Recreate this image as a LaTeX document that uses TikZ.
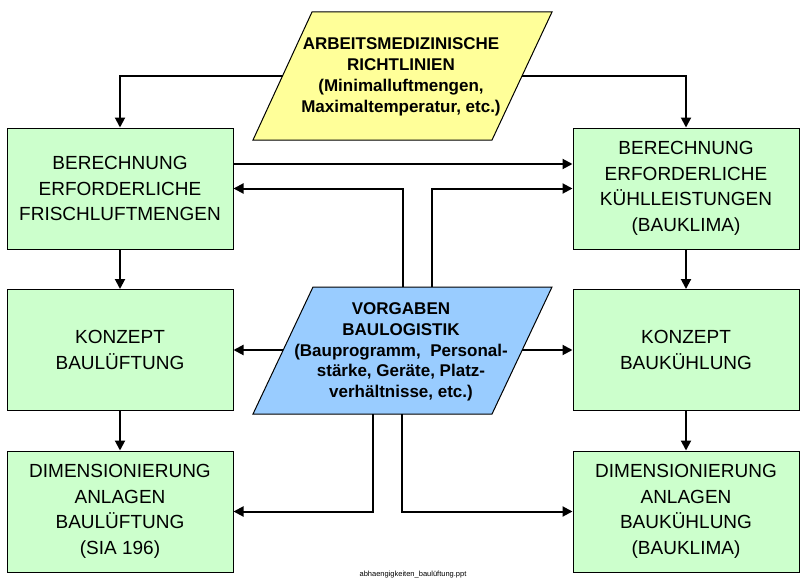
\documentclass[tikz,border=0pt]{standalone}
\usepackage{fontspec}
\setmainfont{Liberation Sans}
\usetikzlibrary{arrows.meta}
\definecolor{boxgreen}{RGB}{204,255,204}
\definecolor{amsyellow}{RGB}{255,255,153}
\definecolor{vorgblue}{RGB}{153,204,255}

\begin{document}
\begin{tikzpicture}[x=1pt,y=-1pt,
    box/.style={draw,line width=1pt,fill=boxgreen,minimum width=226pt,minimum height=121pt,
                align=center,inner sep=0pt,font=\fontsize{19}{25.5}\selectfont},
    para/.style={draw,line width=1pt},
    paratext/.style={align=center,inner sep=0pt,font=\bfseries\fontsize{17}{20.8}\selectfont},
    arr/.style={line width=2pt,-{Triangle[length=10pt,width=10pt]}}]
    \useasboundingbox (0,0) rectangle (805,586);
    % Vorgaben (Parallelogramme)
    \draw[para,fill=amsyellow] (312,12) -- (552,12) -- (492,140) -- (253,140) -- cycle;
    \node[paratext] (ams) at (401,77) {ARBEITSMEDIZINISCHE\\RICHTLINIEN\\(Minimalluftmengen,\\Maximaltemperatur, etc.)};
    \coordinate (amsl) at (282.5,76);
    \coordinate (amsr) at (522,76);
    \draw[para,fill=vorgblue] (313,287) -- (552,287) -- (492,414) -- (253,414) -- cycle;
    \node[paratext] (vorg) at (401,352) {VORGABEN\\BAULOGISTIK\\(Bauprogramm,\ \ Personal-\\stärke, Geräte, Platz-\\verhältnisse, etc.)};
    \coordinate (vorgl) at (283,350);
    \coordinate (vorgr) at (522,350);
    \coordinate (vorgo1) at (403,287);
    \coordinate (vorgo2) at (432,287);
    \coordinate (vorgu1) at (373,414);
    \coordinate (vorgu2) at (402,414);
    % Lueftung (links)
    \node[box] (frisch) at (120,188.5) {BERECHNUNG\\ERFORDERLICHE\\FRISCHLUFTMENGEN};
    \node[box] (konzl) at (120,350) {KONZEPT\\BAULÜFTUNG};
    \node[box] (diml) at (120,511.5) {DIMENSIONIERUNG\\ANLAGEN\\BAULÜFTUNG\\(SIA 196)};
    % Kuehlung (rechts)
    \node[box] (kuehl) at (686,188.5) {BERECHNUNG\\ERFORDERLICHE\\KÜHLLEISTUNGEN\\(BAUKLIMA)};
    \node[box] (konzr) at (686,350) {KONZEPT\\BAUKÜHLUNG};
    \node[box] (dimr) at (686,511.5) {DIMENSIONIERUNG\\ANLAGEN\\BAUKÜHLUNG\\(BAUKLIMA)};
    % Pfeile
    \draw[arr] (amsl) -| (frisch);
    \draw[arr] (amsr) -| (kuehl);
    \draw[arr] ([yshift=24.5pt]frisch.east) -- ([yshift=24.5pt]kuehl.west);
    \draw[arr] (vorgo1) |- (frisch);
    \draw[arr] (vorgo2) |- (kuehl);
    \draw[arr] (vorgl) -- (konzl.east);
    \draw[arr] (vorgr) -- (konzr.west);
    \draw[arr] (vorgu1) |- (diml);
    \draw[arr] (vorgu2) |- (dimr);
    \draw[arr] (frisch) -- (konzl);
    \draw[arr] (konzl) -- (diml);
    \draw[arr] (kuehl) -- (konzr);
    \draw[arr] (konzr) -- (dimr);
    \node[font=\fontsize{7.5}{9}\selectfont] (datei) at (413,575) {abhaengigkeiten\_baulüftung.ppt};
\end{tikzpicture}
\end{document}
